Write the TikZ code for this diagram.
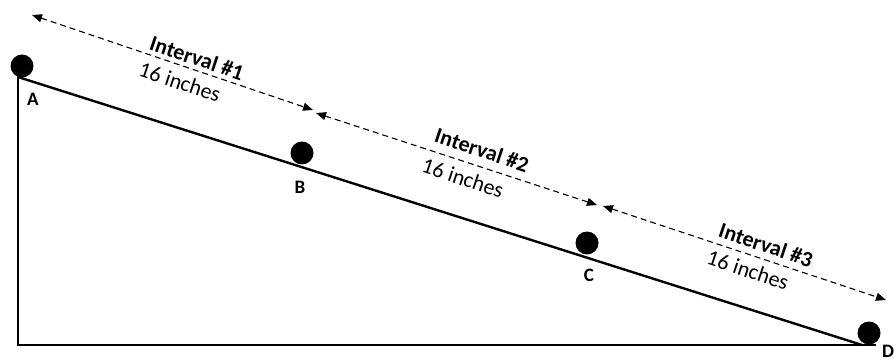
\documentclass[tikz,border=0pt]{standalone}
\usepackage{fontspec}
\setmainfont{Carlito}
\usetikzlibrary{arrows.meta}
\begin{document}
\begin{tikzpicture}[x=1pt,y=-1pt,
  ball/.style={circle,fill=black,inner sep=0pt,minimum size=23pt},
  ptlabel/.style={font=\fontsize{19}{22}\selectfont\bfseries,inner sep=0pt},
  ivname/.style={font=\fontsize{22}{26}\selectfont\bfseries,inner sep=0pt,rotate=-18.5},
  ivlen/.style={font=\fontsize{22}{26}\selectfont,inner sep=0pt,rotate=-18.5},
  solidline/.style={line width=2.4pt},
  dimarrow/.style={line width=1.1pt,dash pattern=on 6pt off 4pt,{Triangle[length=10pt,width=8pt]}-{Triangle[length=10pt,width=8pt]}}]
\useasboundingbox (0,0) rectangle (894,358);
% frame
\coordinate (top) at (18,77);
\coordinate (bl) at (18,345);
\coordinate (br) at (875,345);
\coordinate (tipD) at (862,345);
\draw[solidline,line cap=rect] (top) -- (bl) -- (br);
\draw[solidline] (top) -- (tipD);
% balls
\node[ball] (bA) at (22,66) {};
\node[ball] (bB) at (302,153) {};
\node[ball] (bC) at (587,243) {};
\node[ball] (bD) at (869,333) {};
% point labels
\node[ptlabel] (lA) at (33,99) {A};
\node[ptlabel] (lB) at (300,187) {B};
\node[ptlabel] (lC) at (589,275) {C};
\node[ptlabel,anchor=west] (lD) at (882,351) {D};
% arrows
\coordinate (a1s) at (32,15);
\coordinate (a1e) at (313,110);
\coordinate (a2s) at (316,113);
\coordinate (a2e) at (597,205);
\coordinate (a3s) at (603,206);
\coordinate (a3e) at (886,300);
\draw[dimarrow] (a1s) -- (a1e);
\draw[dimarrow] (a2s) -- (a2e);
\draw[dimarrow] (a3s) -- (a3e);
% interval labels
\node[ivname] (n1) at (197,58) {Interval \#1};
\node[ivlen] (m1) at (180,82) {16 inches};
\node[ivname] (n2) at (482,150) {Interval \#2};
\node[ivlen] (m2) at (463,178) {16 inches};
\node[ivname] (n3) at (766,245) {Interval \#3};
\node[ivlen] (m3) at (748,270) {16 inches};
\end{tikzpicture}
\end{document}
